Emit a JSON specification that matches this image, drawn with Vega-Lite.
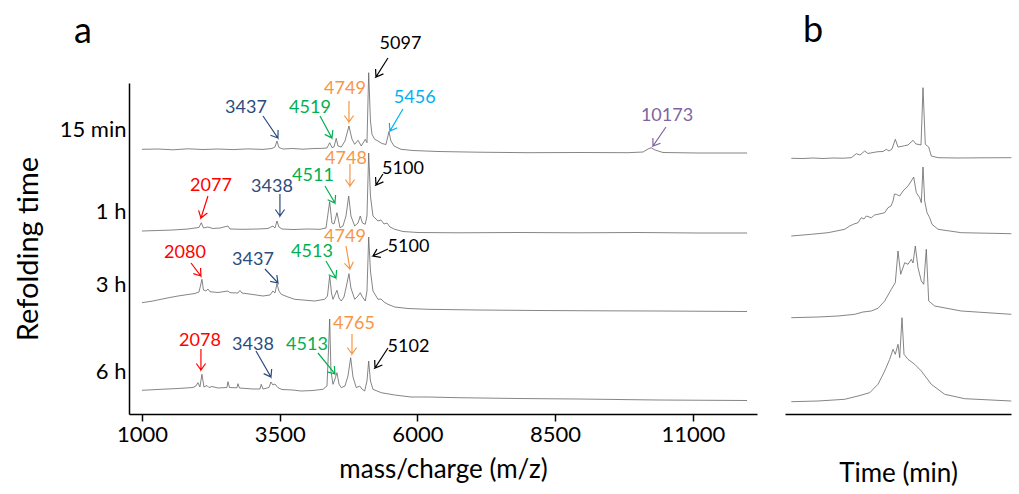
{
  "$schema": "https://vega.github.io/schema/vega-lite/v6.json",
  "background": "white",
  "padding": {"left": 14, "top": 13, "right": 0, "bottom": 0},
  "config": {"view": {"stroke": null}, "font": "Lato"},
  "spacing": 28,
  "datasets": {
    "traceA": [
      {"s":"15 min","m":1000,"h":264.7},{"s":"15 min","m":1290,"h":265},{"s":"15 min","m":1563,"h":264.2},{"s":"15 min","m":1835,"h":265.2},{"s":"15 min","m":2107,"h":264.5},{"s":"15 min","m":2380,"h":265},{"s":"15 min","m":2652,"h":264.4},{"s":"15 min","m":2924,"h":265.1},{"s":"15 min","m":3197,"h":264.6},{"s":"15 min","m":3360,"h":265.5},{"s":"15 min","m":3415,"h":267},{"s":"15 min","m":3451,"h":273},{"s":"15 min","m":3487,"h":266.5},{"s":"15 min","m":3560,"h":265},{"s":"15 min","m":3741,"h":265.5},{"s":"15 min","m":3923,"h":264.8},{"s":"15 min","m":4104,"h":265.4},{"s":"15 min","m":4286,"h":265.7},{"s":"15 min","m":4359,"h":266},{"s":"15 min","m":4408,"h":271.3},{"s":"15 min","m":4449,"h":266.5},{"s":"15 min","m":4486,"h":267},{"s":"15 min","m":4527,"h":275.7},{"s":"15 min","m":4558,"h":268},{"s":"15 min","m":4618,"h":267},{"s":"15 min","m":4686,"h":273},{"s":"15 min","m":4758,"h":288},{"s":"15 min","m":4812,"h":275},{"s":"15 min","m":4862,"h":269.7},{"s":"15 min","m":4922,"h":273.7},{"s":"15 min","m":4981,"h":268},{"s":"15 min","m":5054,"h":274.7},{"s":"15 min","m":5085,"h":271.3},{"s":"15 min","m":5116,"h":341.3},{"s":"15 min","m":5148,"h":293},{"s":"15 min","m":5176,"h":279.7},{"s":"15 min","m":5225,"h":274.7},{"s":"15 min","m":5285,"h":273},{"s":"15 min","m":5357,"h":270.5},{"s":"15 min","m":5430,"h":269.5},{"s":"15 min","m":5484,"h":282.3},{"s":"15 min","m":5520,"h":273},{"s":"15 min","m":5575,"h":268},{"s":"15 min","m":5702,"h":264.7},{"s":"15 min","m":5920,"h":263.5},{"s":"15 min","m":6374,"h":262.5},{"s":"15 min","m":7100,"h":261.8},{"s":"15 min","m":8008,"h":261.3},{"s":"15 min","m":8916,"h":261.5},{"s":"15 min","m":9823,"h":261.3},{"s":"15 min","m":10096,"h":262},{"s":"15 min","m":10187,"h":265},{"s":"15 min","m":10241,"h":266.3},{"s":"15 min","m":10314,"h":264},{"s":"15 min","m":10459,"h":261.5},{"s":"15 min","m":11094,"h":261},{"s":"15 min","m":11984,"h":261},
      {"s":"1 h","m":1000,"h":183},{"s":"1 h","m":1290,"h":183.5},{"s":"1 h","m":1563,"h":184},{"s":"1 h","m":1835,"h":185},{"s":"1 h","m":1962,"h":186},{"s":"1 h","m":2035,"h":186.5},{"s":"1 h","m":2077,"h":191.3},{"s":"1 h","m":2117,"h":186},{"s":"1 h","m":2198,"h":187},{"s":"1 h","m":2289,"h":185.5},{"s":"1 h","m":2416,"h":186},{"s":"1 h","m":2561,"h":188},{"s":"1 h","m":2598,"h":185},{"s":"1 h","m":2834,"h":184.7},{"s":"1 h","m":3106,"h":185},{"s":"1 h","m":3288,"h":185.5},{"s":"1 h","m":3378,"h":188},{"s":"1 h","m":3415,"h":186},{"s":"1 h","m":3451,"h":193},{"s":"1 h","m":3487,"h":187},{"s":"1 h","m":3542,"h":185},{"s":"1 h","m":3741,"h":184.5},{"s":"1 h","m":4014,"h":185},{"s":"1 h","m":4232,"h":184.7},{"s":"1 h","m":4341,"h":186},{"s":"1 h","m":4408,"h":212.3},{"s":"1 h","m":4449,"h":191},{"s":"1 h","m":4486,"h":190},{"s":"1 h","m":4540,"h":201.3},{"s":"1 h","m":4595,"h":186.3},{"s":"1 h","m":4649,"h":188},{"s":"1 h","m":4704,"h":198},{"s":"1 h","m":4753,"h":218},{"s":"1 h","m":4794,"h":198},{"s":"1 h","m":4862,"h":188},{"s":"1 h","m":4922,"h":191},{"s":"1 h","m":4963,"h":198},{"s":"1 h","m":5003,"h":191},{"s":"1 h","m":5054,"h":189.7},{"s":"1 h","m":5085,"h":198},{"s":"1 h","m":5116,"h":261},{"s":"1 h","m":5148,"h":218},{"s":"1 h","m":5194,"h":198},{"s":"1 h","m":5248,"h":195},{"s":"1 h","m":5285,"h":193},{"s":"1 h","m":5339,"h":194},{"s":"1 h","m":5394,"h":190},{"s":"1 h","m":5448,"h":191},{"s":"1 h","m":5503,"h":187},{"s":"1 h","m":5588,"h":184.7},{"s":"1 h","m":5738,"h":182.5},{"s":"1 h","m":6010,"h":181.5},{"s":"1 h","m":6737,"h":181.2},{"s":"1 h","m":7826,"h":181.5},{"s":"1 h","m":8916,"h":181.2},{"s":"1 h","m":10005,"h":181.5},{"s":"1 h","m":11094,"h":181},{"s":"1 h","m":11984,"h":181},
      {"s":"3 h","m":1000,"h":111.3},{"s":"3 h","m":1200,"h":113},{"s":"3 h","m":1345,"h":114.7},{"s":"3 h","m":1508,"h":116.5},{"s":"3 h","m":1654,"h":118},{"s":"3 h","m":1835,"h":119.5},{"s":"3 h","m":1962,"h":120.5},{"s":"3 h","m":2035,"h":122},{"s":"3 h","m":2062,"h":128},{"s":"3 h","m":2089,"h":134.7},{"s":"3 h","m":2117,"h":124},{"s":"3 h","m":2162,"h":123},{"s":"3 h","m":2198,"h":125},{"s":"3 h","m":2235,"h":122.3},{"s":"3 h","m":2380,"h":121.5},{"s":"3 h","m":2561,"h":123},{"s":"3 h","m":2598,"h":121.3},{"s":"3 h","m":2743,"h":121},{"s":"3 h","m":2779,"h":123.5},{"s":"3 h","m":2816,"h":121},{"s":"3 h","m":3015,"h":119.5},{"s":"3 h","m":3197,"h":118},{"s":"3 h","m":3324,"h":119},{"s":"3 h","m":3378,"h":123},{"s":"3 h","m":3415,"h":121},{"s":"3 h","m":3451,"h":130.3},{"s":"3 h","m":3487,"h":123},{"s":"3 h","m":3529,"h":119.7},{"s":"3 h","m":3651,"h":117},{"s":"3 h","m":3772,"h":114.7},{"s":"3 h","m":3923,"h":114},{"s":"3 h","m":4135,"h":113},{"s":"3 h","m":4317,"h":114.7},{"s":"3 h","m":4368,"h":118},{"s":"3 h","m":4408,"h":138},{"s":"3 h","m":4441,"h":121},{"s":"3 h","m":4468,"h":114.7},{"s":"3 h","m":4540,"h":123.7},{"s":"3 h","m":4577,"h":116},{"s":"3 h","m":4618,"h":113},{"s":"3 h","m":4667,"h":117},{"s":"3 h","m":4704,"h":126},{"s":"3 h","m":4758,"h":140.3},{"s":"3 h","m":4794,"h":126},{"s":"3 h","m":4862,"h":114.7},{"s":"3 h","m":4922,"h":118},{"s":"3 h","m":4963,"h":121.3},{"s":"3 h","m":5003,"h":117},{"s":"3 h","m":5054,"h":113},{"s":"3 h","m":5085,"h":123},{"s":"3 h","m":5116,"h":177},{"s":"3 h","m":5148,"h":143},{"s":"3 h","m":5194,"h":123},{"s":"3 h","m":5285,"h":114.7},{"s":"3 h","m":5339,"h":115},{"s":"3 h","m":5394,"h":112},{"s":"3 h","m":5466,"h":109.7},{"s":"3 h","m":5588,"h":107},{"s":"3 h","m":5829,"h":105.5},{"s":"3 h","m":6192,"h":104.7},{"s":"3 h","m":7100,"h":104},{"s":"3 h","m":8189,"h":103.5},{"s":"3 h","m":9279,"h":103.2},{"s":"3 h","m":10368,"h":103},{"s":"3 h","m":11984,"h":102.5},
      {"s":"6 h","m":1000,"h":23.7},{"s":"6 h","m":1345,"h":24.7},{"s":"6 h","m":1654,"h":25.5},{"s":"6 h","m":1926,"h":26.5},{"s":"6 h","m":1980,"h":28},{"s":"6 h","m":2017,"h":31.3},{"s":"6 h","m":2053,"h":27},{"s":"6 h","m":2089,"h":39.7},{"s":"6 h","m":2126,"h":27},{"s":"6 h","m":2180,"h":28.5},{"s":"6 h","m":2216,"h":26.5},{"s":"6 h","m":2271,"h":27.5},{"s":"6 h","m":2380,"h":26},{"s":"6 h","m":2543,"h":26.5},{"s":"6 h","m":2561,"h":32.3},{"s":"6 h","m":2589,"h":26.5},{"s":"6 h","m":2725,"h":26.2},{"s":"6 h","m":2743,"h":30.3},{"s":"6 h","m":2770,"h":26},{"s":"6 h","m":3015,"h":25},{"s":"6 h","m":3142,"h":25},{"s":"6 h","m":3166,"h":29.7},{"s":"6 h","m":3197,"h":25},{"s":"6 h","m":3306,"h":26.5},{"s":"6 h","m":3342,"h":32},{"s":"6 h","m":3378,"h":29},{"s":"6 h","m":3415,"h":30},{"s":"6 h","m":3469,"h":26.3},{"s":"6 h","m":3542,"h":24.5},{"s":"6 h","m":3741,"h":24},{"s":"6 h","m":3887,"h":23},{"s":"6 h","m":4104,"h":23.5},{"s":"6 h","m":4286,"h":24.7},{"s":"6 h","m":4359,"h":28},{"s":"6 h","m":4386,"h":63},{"s":"6 h","m":4408,"h":95},{"s":"6 h","m":4431,"h":43},{"s":"6 h","m":4468,"h":29.7},{"s":"6 h","m":4504,"h":35},{"s":"6 h","m":4540,"h":41.3},{"s":"6 h","m":4577,"h":30},{"s":"6 h","m":4618,"h":26.3},{"s":"6 h","m":4686,"h":28},{"s":"6 h","m":4740,"h":38},{"s":"6 h","m":4789,"h":56.3},{"s":"6 h","m":4831,"h":37},{"s":"6 h","m":4891,"h":26.3},{"s":"6 h","m":4953,"h":28},{"s":"6 h","m":4994,"h":25},{"s":"6 h","m":5043,"h":23},{"s":"6 h","m":5085,"h":33},{"s":"6 h","m":5116,"h":53},{"s":"6 h","m":5148,"h":33},{"s":"6 h","m":5194,"h":24.7},{"s":"6 h","m":5345,"h":21.3},{"s":"6 h","m":5588,"h":19},{"s":"6 h","m":5884,"h":17},{"s":"6 h","m":6192,"h":17},{"s":"6 h","m":6737,"h":16.3},{"s":"6 h","m":7826,"h":15.5},{"s":"6 h","m":8916,"h":15},{"s":"6 h","m":10368,"h":14},{"s":"6 h","m":11984,"h":13.5}
    ],
    "arrows": [
      {"id":1,"k":0,"m":3197,"h":298,"c":"navy"},{"id":1,"k":1,"m":3469,"h":276,"c":"navy"},{"id":1,"k":2,"m":3471,"h":284,"c":"navy"},{"id":1,"k":3,"m":3469,"h":276,"c":"navy"},{"id":1,"k":4,"m":3333,"h":278.8,"c":"navy"},
      {"id":2,"k":0,"m":4232,"h":298,"c":"green"},{"id":2,"k":1,"m":4449,"h":276,"c":"green"},{"id":2,"k":2,"m":4466,"h":284,"c":"green"},{"id":2,"k":3,"m":4449,"h":276,"c":"green"},{"id":2,"k":4,"m":4319,"h":279.6,"c":"green"},
      {"id":3,"k":0,"m":4758,"h":313,"c":"orange"},{"id":3,"k":1,"m":4758,"h":292,"c":"orange"},{"id":3,"k":2,"m":4842,"h":298.5,"c":"orange"},{"id":3,"k":3,"m":4758,"h":292,"c":"orange"},{"id":3,"k":4,"m":4675,"h":298.5,"c":"orange"},
      {"id":4,"k":0,"m":5738,"h":305,"c":"sky"},{"id":4,"k":1,"m":5502,"h":283,"c":"sky"},{"id":4,"k":2,"m":5635,"h":286.3,"c":"sky"},{"id":4,"k":3,"m":5502,"h":283,"c":"sky"},{"id":4,"k":4,"m":5491,"h":291,"c":"sky"},
      {"id":5,"k":0,"m":5466,"h":356,"c":"black"},{"id":5,"k":1,"m":5248,"h":337,"c":"black"},{"id":5,"k":2,"m":5383,"h":340.1,"c":"black"},{"id":5,"k":3,"m":5248,"h":337,"c":"black"},{"id":5,"k":4,"m":5241,"h":345,"c":"black"},
      {"id":6,"k":0,"m":10513,"h":287,"c":"purple"},{"id":6,"k":1,"m":10277,"h":268,"c":"purple"},{"id":6,"k":2,"m":10413,"h":270.8,"c":"purple"},{"id":6,"k":3,"m":10277,"h":268,"c":"purple"},{"id":6,"k":4,"m":10275,"h":276,"c":"purple"},
      {"id":7,"k":0,"m":2198,"h":218,"c":"red"},{"id":7,"k":1,"m":2071,"h":196,"c":"red"},{"id":7,"k":2,"m":2187,"h":200.9,"c":"red"},{"id":7,"k":3,"m":2071,"h":196,"c":"red"},{"id":7,"k":4,"m":2028,"h":203.6,"c":"red"},
      {"id":8,"k":0,"m":3505,"h":220,"c":"navy"},{"id":8,"k":1,"m":3505,"h":198,"c":"navy"},{"id":8,"k":2,"m":3589,"h":204.5,"c":"navy"},{"id":8,"k":3,"m":3505,"h":198,"c":"navy"},{"id":8,"k":4,"m":3422,"h":204.5,"c":"navy"},
      {"id":9,"k":0,"m":4322,"h":228,"c":"green"},{"id":9,"k":1,"m":4504,"h":211,"c":"green"},{"id":9,"k":2,"m":4515,"h":219,"c":"green"},{"id":9,"k":3,"m":4504,"h":211,"c":"green"},{"id":9,"k":4,"m":4371,"h":214.3,"c":"green"},
      {"id":10,"k":0,"m":4776,"h":250,"c":"orange"},{"id":10,"k":1,"m":4776,"h":228,"c":"orange"},{"id":10,"k":2,"m":4860,"h":234.5,"c":"orange"},{"id":10,"k":3,"m":4776,"h":228,"c":"orange"},{"id":10,"k":4,"m":4693,"h":234.5,"c":"orange"},
      {"id":11,"k":0,"m":5375,"h":240,"c":"black"},{"id":11,"k":1,"m":5248,"h":229,"c":"black"},{"id":11,"k":2,"m":5383,"h":232.1,"c":"black"},{"id":11,"k":3,"m":5248,"h":229,"c":"black"},{"id":11,"k":4,"m":5241,"h":237,"c":"black"},
      {"id":12,"k":0,"m":1890,"h":151,"c":"red"},{"id":12,"k":1,"m":2071,"h":138,"c":"red"},{"id":12,"k":2,"m":2064,"h":146,"c":"red"},{"id":12,"k":3,"m":2071,"h":138,"c":"red"},{"id":12,"k":4,"m":1933,"h":140.4,"c":"red"},
      {"id":13,"k":0,"m":3233,"h":145,"c":"navy"},{"id":13,"k":1,"m":3469,"h":131,"c":"navy"},{"id":13,"k":2,"m":3449,"h":138.9,"c":"navy"},{"id":13,"k":3,"m":3469,"h":131,"c":"navy"},{"id":13,"k":4,"m":3327,"h":132.7,"c":"navy"},
      {"id":14,"k":0,"m":4340,"h":153,"c":"green"},{"id":14,"k":1,"m":4522,"h":136,"c":"green"},{"id":14,"k":2,"m":4533,"h":144,"c":"green"},{"id":14,"k":3,"m":4522,"h":136,"c":"green"},{"id":14,"k":4,"m":4389,"h":139.3,"c":"green"},
      {"id":15,"k":0,"m":4704,"h":168,"c":"orange"},{"id":15,"k":1,"m":4776,"h":145,"c":"orange"},{"id":15,"k":2,"m":4838,"h":152.2,"c":"orange"},{"id":15,"k":3,"m":4776,"h":145,"c":"orange"},{"id":15,"k":4,"m":4675,"h":150.7,"c":"orange"},
      {"id":16,"k":0,"m":5466,"h":165,"c":"black"},{"id":16,"k":1,"m":5194,"h":158,"c":"black"},{"id":16,"k":2,"m":5337,"h":156.6,"c":"black"},{"id":16,"k":3,"m":5194,"h":158,"c":"black"},{"id":16,"k":4,"m":5266,"h":164.9,"c":"black"},
      {"id":17,"k":0,"m":2071,"h":65,"c":"red"},{"id":17,"k":1,"m":2071,"h":44,"c":"red"},{"id":17,"k":2,"m":2155,"h":50.5,"c":"red"},{"id":17,"k":3,"m":2071,"h":44,"c":"red"},{"id":17,"k":4,"m":1988,"h":50.5,"c":"red"},
      {"id":18,"k":0,"m":3070,"h":63,"c":"navy"},{"id":18,"k":1,"m":3342,"h":37,"c":"navy"},{"id":18,"k":2,"m":3355,"h":45,"c":"navy"},{"id":18,"k":3,"m":3342,"h":37,"c":"navy"},{"id":18,"k":4,"m":3210,"h":40.4,"c":"navy"},
      {"id":19,"k":0,"m":4195,"h":61,"c":"green"},{"id":19,"k":1,"m":4504,"h":40,"c":"green"},{"id":19,"k":2,"m":4493,"h":48,"c":"green"},{"id":19,"k":3,"m":4504,"h":40,"c":"green"},{"id":19,"k":4,"m":4364,"h":42.2,"c":"green"},
      {"id":20,"k":0,"m":4813,"h":80,"c":"orange"},{"id":20,"k":1,"m":4813,"h":60,"c":"orange"},{"id":20,"k":2,"m":4896,"h":66.5,"c":"orange"},{"id":20,"k":3,"m":4813,"h":60,"c":"orange"},{"id":20,"k":4,"m":4729,"h":66.5,"c":"orange"},
      {"id":21,"k":0,"m":5466,"h":66,"c":"black"},{"id":21,"k":1,"m":5230,"h":46,"c":"black"},{"id":21,"k":2,"m":5364,"h":49,"c":"black"},{"id":21,"k":3,"m":5230,"h":46,"c":"black"},{"id":21,"k":4,"m":5225,"h":54,"c":"black"}
    ],
    "labels": [
      {"t":"3437","m":2888,"h":306,"c":"navy"},{"t":"4519","m":4050,"h":306,"c":"green"},{"t":"4749","m":4686,"h":325,"c":"orange"},{"t":"5456","m":5951,"h":316,"c":"sky"},{"t":"5097","m":5693,"h":370.5,"c":"black"},{"t":"10173","m":10531,"h":298,"c":"purple"},
      {"t":"2077","m":2253,"h":228,"c":"red"},{"t":"3438","m":3360,"h":227,"c":"navy"},{"t":"4511","m":4104,"h":238,"c":"green"},{"t":"4748","m":4704,"h":254.7,"c":"orange"},{"t":"5100","m":5738,"h":244.7,"c":"black"},
      {"t":"2080","m":1781,"h":160.7,"c":"red"},{"t":"3437","m":3015,"h":153.7,"c":"navy"},{"t":"4513","m":4086,"h":162.3,"c":"green"},{"t":"4749","m":4686,"h":177,"c":"orange"},{"t":"5100","m":5838,"h":167,"c":"black"},
      {"t":"2078","m":2053,"h":72.7,"c":"red"},{"t":"3438","m":3015,"h":69.3,"c":"navy"},{"t":"4513","m":3996,"h":69.3,"c":"green"},{"t":"4765","m":4849,"h":90,"c":"orange"},{"t":"5102","m":5838,"h":67,"c":"black"}
    ],
    "traceB": [
      {"s":"15 min","t":6.3,"h":255.7},{"s":"15 min","t":18,"h":255.5},{"s":"15 min","t":28,"h":256},{"s":"15 min","t":38,"h":255.5},{"s":"15 min","t":48,"h":256},{"s":"15 min","t":58,"h":255.8},{"s":"15 min","t":66.3,"h":256.3},{"s":"15 min","t":71.3,"h":260.3},{"s":"15 min","t":75,"h":259},{"s":"15 min","t":79.7,"h":263},{"s":"15 min","t":83,"h":260.5},{"s":"15 min","t":88,"h":261.5},{"s":"15 min","t":93,"h":262.3},{"s":"15 min","t":98,"h":262.5},{"s":"15 min","t":101.3,"h":264.7},{"s":"15 min","t":104,"h":263},{"s":"15 min","t":107,"h":265},{"s":"15 min","t":110.3,"h":274.7},{"s":"15 min","t":113,"h":267},{"s":"15 min","t":116,"h":267.5},{"s":"15 min","t":119.7,"h":268.3},{"s":"15 min","t":123,"h":269},{"s":"15 min","t":128,"h":273.7},{"s":"15 min","t":131,"h":270},{"s":"15 min","t":133,"h":269.7},{"s":"15 min","t":136,"h":269},{"s":"15 min","t":138,"h":326.3},{"s":"15 min","t":140.3,"h":269.7},{"s":"15 min","t":143.7,"h":267},{"s":"15 min","t":146.3,"h":258},{"s":"15 min","t":153,"h":256.3},{"s":"15 min","t":173,"h":256},{"s":"15 min","t":198,"h":256.2},{"s":"15 min","t":226.3,"h":256.3},
      {"s":"1 h","t":6.3,"h":178},{"s":"1 h","t":26.3,"h":179.7},{"s":"1 h","t":43,"h":181.3},{"s":"1 h","t":59.7,"h":184.7},{"s":"1 h","t":64.7,"h":188},{"s":"1 h","t":69,"h":190},{"s":"1 h","t":73,"h":191.3},{"s":"1 h","t":76.3,"h":196.3},{"s":"1 h","t":79,"h":195},{"s":"1 h","t":81.3,"h":198},{"s":"1 h","t":86.3,"h":196.3},{"s":"1 h","t":89.5,"h":199},{"s":"1 h","t":93,"h":199.7},{"s":"1 h","t":99.7,"h":201.3},{"s":"1 h","t":103,"h":206.3},{"s":"1 h","t":106,"h":208},{"s":"1 h","t":108,"h":213},{"s":"1 h","t":109.5,"h":220},{"s":"1 h","t":111.3,"h":219.7},{"s":"1 h","t":114.7,"h":218},{"s":"1 h","t":118,"h":223},{"s":"1 h","t":123,"h":228},{"s":"1 h","t":126.3,"h":233},{"s":"1 h","t":128.7,"h":237},{"s":"1 h","t":131.3,"h":221.3},{"s":"1 h","t":134.7,"h":216.3},{"s":"1 h","t":136.3,"h":211.3},{"s":"1 h","t":138,"h":247},{"s":"1 h","t":139.7,"h":213},{"s":"1 h","t":142,"h":201.3},{"s":"1 h","t":144.7,"h":196.3},{"s":"1 h","t":147,"h":189.7},{"s":"1 h","t":153,"h":184.7},{"s":"1 h","t":176.3,"h":181.3},{"s":"1 h","t":226.3,"h":180.3},
      {"s":"3 h","t":6.3,"h":96.3},{"s":"3 h","t":33,"h":97},{"s":"3 h","t":53,"h":98},{"s":"3 h","t":69.7,"h":99.7},{"s":"3 h","t":78,"h":102},{"s":"3 h","t":86.3,"h":103},{"s":"3 h","t":93,"h":105.7},{"s":"3 h","t":99.7,"h":113},{"s":"3 h","t":106.3,"h":124.7},{"s":"3 h","t":110.3,"h":131.3},{"s":"3 h","t":113,"h":163},{"s":"3 h","t":115.7,"h":139.7},{"s":"3 h","t":119.7,"h":151.3},{"s":"3 h","t":123,"h":149.7},{"s":"3 h","t":126.3,"h":154.7},{"s":"3 h","t":128,"h":151},{"s":"3 h","t":130.3,"h":168},{"s":"3 h","t":133,"h":146.3},{"s":"3 h","t":136.3,"h":133},{"s":"3 h","t":138.7,"h":129.7},{"s":"3 h","t":141.3,"h":164.7},{"s":"3 h","t":143.7,"h":113},{"s":"3 h","t":149.7,"h":108},{"s":"3 h","t":176.3,"h":103},{"s":"3 h","t":226.3,"h":99.7},
      {"s":"6 h","t":6.3,"h":12.3},{"s":"6 h","t":33,"h":13},{"s":"6 h","t":59.7,"h":14.7},{"s":"6 h","t":73,"h":18},{"s":"6 h","t":84.7,"h":21.3},{"s":"6 h","t":93,"h":29.7},{"s":"6 h","t":99.7,"h":43},{"s":"6 h","t":104.7,"h":54.7},{"s":"6 h","t":108,"h":64.7},{"s":"6 h","t":110.3,"h":59.7},{"s":"6 h","t":113,"h":69.7},{"s":"6 h","t":114.7,"h":56.3},{"s":"6 h","t":117,"h":96.3},{"s":"6 h","t":119,"h":59.7},{"s":"6 h","t":123,"h":54.7},{"s":"6 h","t":129.7,"h":49.7},{"s":"6 h","t":136.3,"h":43},{"s":"6 h","t":146.3,"h":29.7},{"s":"6 h","t":159.7,"h":19.7},{"s":"6 h","t":179.7,"h":15.3},{"s":"6 h","t":226.3,"h":13}
    ]
  },
  "hconcat": [
    {
      "width": 628,
      "height": 331,
      "title": {"text": "a", "anchor": "start", "frame": "group", "dx": -55, "fontSize": 36, "fontWeight": "normal", "font": "Lato", "offset": -16, "color": "black"},
      "layer": [
        {
          "data": {"name": "traceA"},
          "mark": {"type": "line", "color": "#666666", "strokeWidth": 0.8},
          "encoding": {
            "x": {"field": "m", "type": "quantitative", "scale": {"domain": [765, 12165], "nice": false, "zero": false},
              "axis": {"title": "mass/charge (m/z)", "values": [1000, 3500, 6000, 8500, 11000], "format": "d", "grid": false, "tickSize": 7, "tickColor": "black", "tickWidth": 1.5, "domainColor": "black", "domainWidth": 1.5, "labelFontSize": 22, "labelFont": "Lato", "labelColor": "black", "labelPadding": 3, "labelFlush": false, "labelOverlap": false, "titleFontSize": 26, "titleFont": "Lato", "titleFontWeight": "normal", "titleColor": "black", "titlePadding": 11}},
            "y": {"field": "h", "type": "quantitative", "scale": {"domain": [0, 331], "nice": false},
              "axis": {"title": "Refolding  time", "values": [43, 130, 203, 285], "labelExpr": "datum.value == 285 ? '15 min' : datum.value == 203 ? '1 h' : datum.value == 130 ? '3 h' : '6 h'", "ticks": false, "grid": false, "domainColor": "black", "domainWidth": 1.5, "labelFontSize": 22, "labelFont": "Lato", "labelColor": "black", "labelPadding": 3, "titleFontSize": 29, "titleFont": "Lato", "titleFontWeight": "normal", "titleColor": "black", "titlePadding": 16}},
            "detail": {"field": "s"}
          }
        },
        {
          "data": {"name": "arrows"},
          "mark": {"type": "line", "strokeWidth": 1.2},
          "encoding": {
            "x": {"field": "m", "type": "quantitative"},
            "y": {"field": "h", "type": "quantitative"},
            "detail": {"field": "id"},
            "order": {"field": "k"},
            "color": {"field": "c", "type": "nominal", "legend": null,
              "scale": {"domain": ["navy", "green", "orange", "sky", "black", "purple", "red"], "range": ["#2B4C7E", "#00B050", "#F79646", "#00B0F0", "#000000", "#8064A2", "#FF0000"]}}
          }
        },
        {
          "data": {"name": "labels"},
          "mark": {"type": "text", "fontSize": 18, "font": "Lato", "align": "center", "baseline": "middle"},
          "encoding": {
            "x": {"field": "m", "type": "quantitative"},
            "y": {"field": "h", "type": "quantitative"},
            "text": {"field": "t"},
            "color": {"field": "c", "type": "nominal", "legend": null}
          }
        }
      ]
    },
    {
      "width": 226,
      "height": 331,
      "title": {"text": "b", "anchor": "start", "frame": "group", "dx": 18, "fontSize": 36, "fontWeight": "normal", "font": "Lato", "offset": 33, "color": "black"},
      "data": {"name": "traceB"},
      "mark": {"type": "line", "color": "#666666", "strokeWidth": 0.8},
      "encoding": {
        "x": {"field": "t", "type": "quantitative", "scale": {"domain": [0, 226], "nice": false},
          "axis": {"title": "Time (min)", "ticks": false, "labels": false, "grid": false, "domainColor": "black", "domainWidth": 1.5, "titleFontSize": 26, "titleFont": "Lato", "titleFontWeight": "normal", "titleColor": "black", "titlePadding": 46}},
        "y": {"field": "h", "type": "quantitative", "scale": {"domain": [0, 331], "nice": false}, "axis": null},
        "detail": {"field": "s"}
      }
    }
  ]
}
